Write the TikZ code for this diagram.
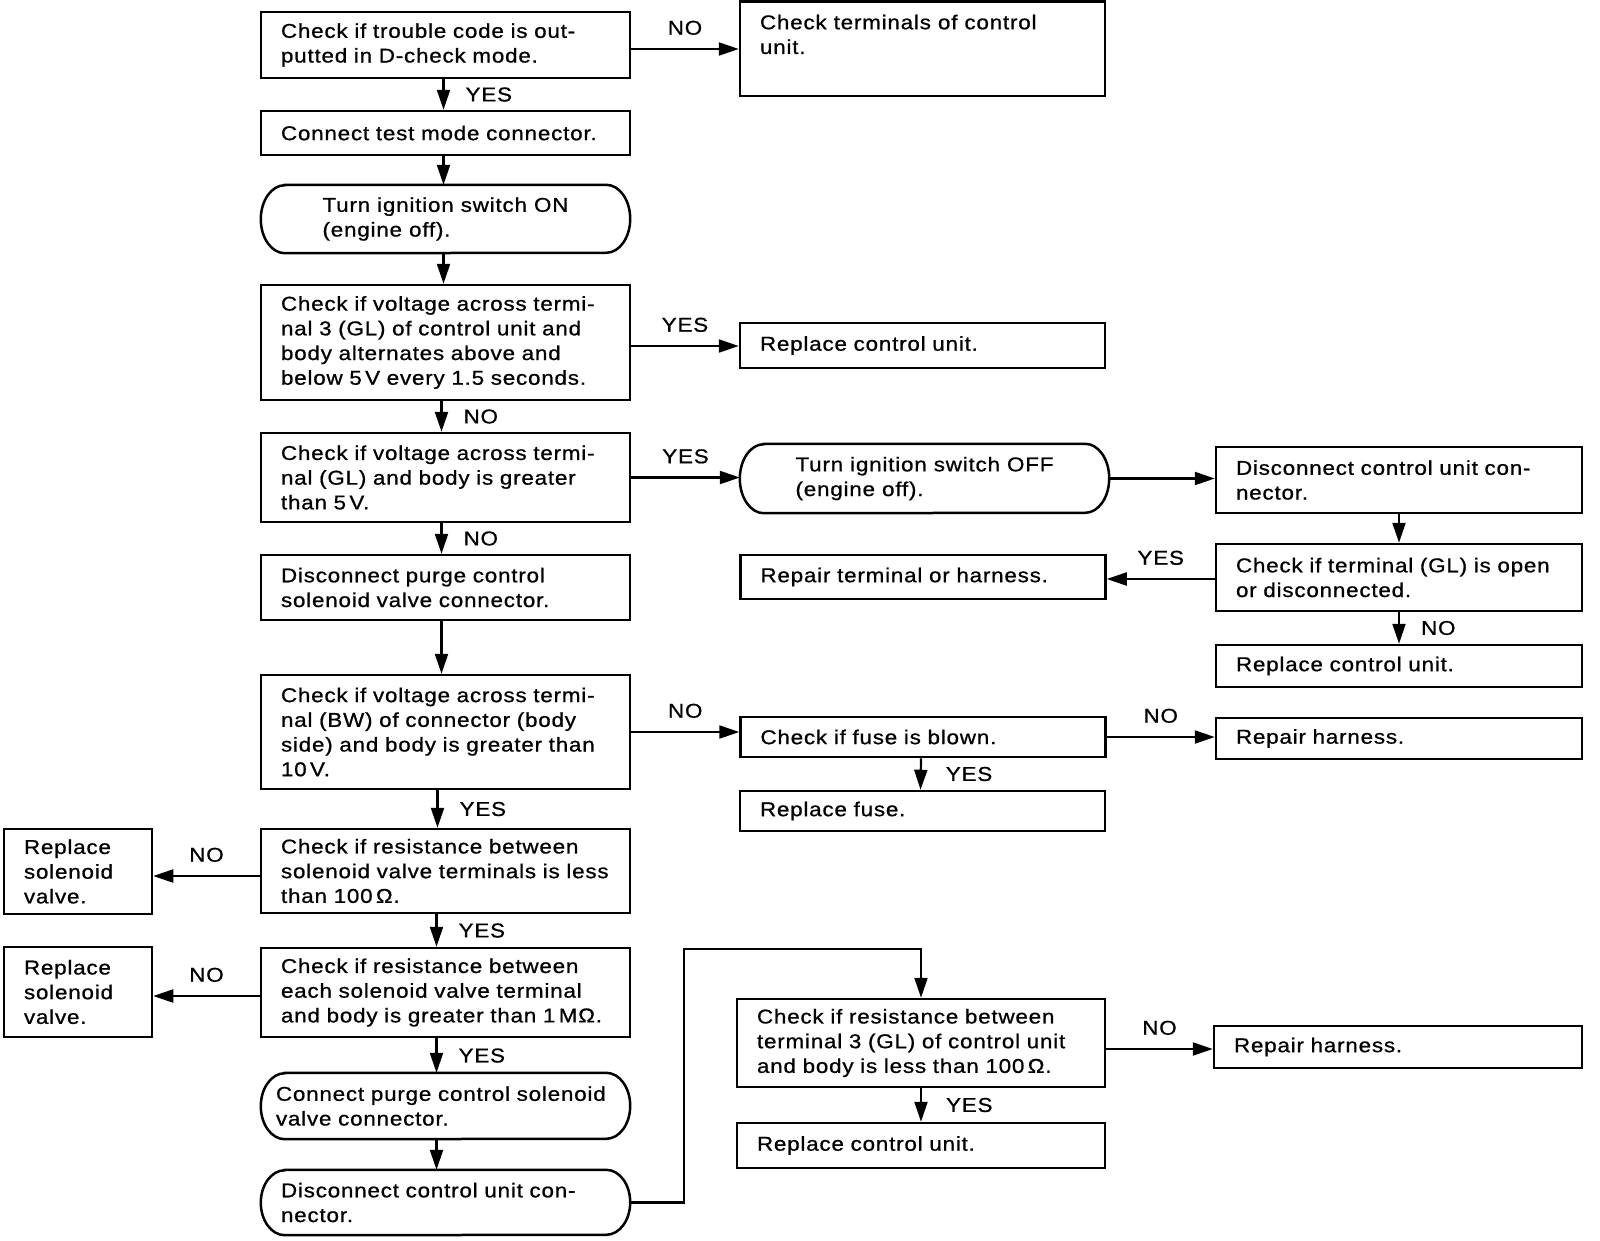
\documentclass[tikz,border=0pt]{standalone}
\usepackage{fontspec}
\setmainfont{Liberation Sans}[FakeStretch=1.12,LetterSpace=4,FakeBold=0.8]
\usetikzlibrary{arrows.meta}
\newcommand\stadium[3]{\draw[bline] ([xshift=#2]#1.north west) -- ([xshift=-#2]#1.north east) arc[start angle=90,end angle=-90,x radius=#2,y radius=#3] -- ([xshift=#2]#1.south west) arc[start angle=270,end angle=90,x radius=#2,y radius=#3] -- cycle;}
\begin{document}
\begin{tikzpicture}[x=1pt,y=1pt,
  txt/.style={font=\fontsize{20}{24.7}\selectfont},
  bx/.style={txt, draw, line width=2.5pt, inner xsep=20pt, inner ysep=0pt, align=left},
  rbx/.style={txt, inner xsep=20pt, inner ysep=0pt, align=left},
  bline/.style={line width=2.5pt},
  colm/.style={minimum width=369pt, text width=329pt},
  colc/.style={minimum width=365pt, text width=325pt},
  colr/.style={minimum width=366pt, text width=326pt},
  coll/.style={minimum width=148pt, text width=108pt},
  arr/.style={line width=2.2pt, -{Triangle[length=20pt,width=13pt]}},
  lab/.style={txt, inner sep=2pt},
]
\fill[white] (0,0) rectangle (1600,-1240);
\useasboundingbox (0,0) rectangle (1600,-1240);

% main column
\node[bx, colm, minimum height=66pt] (m1) at (445.5,-45) {Check if trouble code is out-\\putted in D-check mode.};
\node[bx, colm, minimum height=44pt] (m2) at (445.5,-133) {Connect test mode connector.};
\node[rbx, minimum width=369pt, minimum height=68pt] (m3) at (445.5,-219) {Turn ignition switch ON\\(engine off).};
\stadium{m3}{24pt}{34pt}
\node[bx, colm, minimum height=115pt] (m4) at (445.5,-342.5) {Check if voltage across termi-\\nal 3 (GL) of control unit and\\body alternates above and\\below 5\,V every 1.5 seconds.};
\node[bx, colm, minimum height=89pt] (m5) at (445.5,-477.5) {Check if voltage across termi-\\nal (GL) and body is greater\\than 5\,V.};
\node[bx, colm, minimum height=65pt] (m6) at (445.5,-587.5) {Disconnect purge control\\solenoid valve connector.};
\node[bx, colm, minimum height=114pt] (m7) at (445.5,-732) {Check if voltage across termi-\\nal (BW) of connector (body\\side) and body is greater than\\10\,V.};
\node[bx, colm, minimum height=84pt] (m8) at (445.5,-871) {Check if resistance between\\solenoid valve terminals is less\\than 100\,Ω.};
\node[bx, colm, minimum height=89pt] (m9) at (445.5,-992.5) {Check if resistance between\\each solenoid valve terminal\\and body is greater than 1\,MΩ.};
\node[rbx, minimum width=369pt, text width=339pt, inner xsep=15pt, minimum height=66pt] (m10) at (445.5,-1106) {Connect purge control solenoid\\valve connector.};
\stadium{m10}{24pt}{33pt}
\node[rbx, colm, minimum height=65pt] (m11) at (445.5,-1202.5) {Disconnect control unit con-\\nector.};
\stadium{m11}{24pt}{32.5pt}

% second column
\node[bx, minimum width=365pt, minimum height=94.5pt] (c1) at (922.5,-48.75) {\parbox[t][68pt][t]{325pt}{Check terminals of control\\unit.}};
\node[bx, colc, minimum height=45pt] (c2) at (922.5,-345.5) {Replace control unit.};
\node[rbx, minimum width=369pt, minimum height=69pt] (c3) at (924.5,-478.5) {Turn ignition switch OFF\\(engine off).};
\stadium{c3}{24pt}{34.5pt}
\node[bx, colc, minimum height=44pt] (c4) at (923,-577) {Repair terminal or harness.};
\node[bx, colc, minimum height=40pt] (c5) at (923,-737) {Check if fuse is blown.};
\node[bx, colc, minimum height=40pt] (c6) at (922.5,-811) {Replace fuse.};
\node[bx, minimum width=368pt, text width=328pt, minimum height=88pt] (c7) at (921,-1043) {Check if resistance between\\terminal 3 (GL) of control unit\\and body is less than 100\,Ω.};
\node[bx, minimum width=368pt, text width=328pt, minimum height=45pt] (c8) at (921,-1145.5) {Replace control unit.};

% right column
\node[bx, colr, minimum height=66pt] (r1) at (1399,-480) {Disconnect control unit con-\\nector.};
\node[bx, colr, minimum height=67pt] (r2) at (1399,-577.5) {Check if terminal (GL) is open\\or disconnected.};
\node[bx, colr, minimum height=42pt] (r3) at (1399,-666) {Replace control unit.};
\node[bx, colr, minimum height=41pt] (r4) at (1399,-738.5) {Repair harness.};
\node[bx, minimum width=368pt, text width=328pt, minimum height=42pt] (r5) at (1398,-1047) {Repair harness.};

% left column
\node[bx, coll, minimum height=85pt] (l1) at (78,-871.5) {Replace\\solenoid\\valve.};
\node[bx, coll, minimum height=90pt] (l2) at (78,-992) {Replace\\solenoid\\valve.};

% vertical arrows in main column
\draw[arr] ([xshift=-2pt]m1.south) -- node[lab, right=19pt] {YES} ([xshift=-2pt]m2.north);
\draw[arr] ([xshift=-2pt]m2.south) -- ([xshift=-2pt]m3.north);
\draw[arr] ([xshift=-2pt]m3.south) -- ([xshift=-2pt]m4.north);
\draw[arr] ([xshift=-4pt]m4.south) -- node[lab, right=19pt] {NO} ([xshift=-4pt]m5.north);
\draw[arr] ([xshift=-4pt]m5.south) -- node[lab, right=19pt] {NO} ([xshift=-4pt]m6.north);
\draw[arr] ([xshift=-4pt]m6.south) -- ([xshift=-4pt]m7.north);
\draw[arr] ([xshift=-8pt]m7.south) -- node[lab, right=19pt] {YES} ([xshift=-8pt]m8.north);
\draw[arr] ([xshift=-9pt]m8.south) -- node[lab, right=19pt] {YES} ([xshift=-9pt]m9.north);
\draw[arr] ([xshift=-9pt]m9.south) -- node[lab, right=19pt] {YES} ([xshift=-9pt]m10.north);
\draw[arr] ([xshift=-9pt]m10.south) -- ([xshift=-9pt]m11.north);

% horizontal arrows
\draw[arr] ([yshift=-4pt]m1.east) -- node[lab, above=11pt] {NO} ([yshift=-4pt]m1.east -| c1.west);
\draw[arr] ([yshift=-3.5pt]m4.east) -- node[lab, above=11pt] {YES} ([yshift=-3.5pt]m4.east -| c2.west);
\draw[arr] (m5.east) -- node[lab, above=11pt] {YES} (m5.east -| c3.west);
\draw[arr] (c3.east) -- (c3.east -| r1.west);
\draw[arr] (r1.south) -- (r2.north);
\draw[arr] ([yshift=-1.5pt]r2.west) -- node[lab, above=11pt] {YES} ([yshift=-1.5pt]r2.west -| c4.east);
\draw[arr] (r2.south) -- node[lab, right=19pt] {NO} (r3.north);
\draw[arr] (m7.east) -- node[lab, above=11pt] {NO} (m7.east -| c5.west);
\draw[arr] (c5.east) -- node[lab, above=11pt] {NO} (c5.east -| r4.west);
\draw[arr] ([xshift=-2pt]c5.south) -- node[lab, right=22pt] {YES} ([xshift=-2pt]c6.north);
\draw[arr] ([yshift=-5pt]m8.west) -- node[lab, above=11pt] {NO} ([yshift=-5pt]m8.west -| l1.east);
\draw[arr] ([yshift=-3.5pt]m9.west) -- node[lab, above=11pt] {NO} ([yshift=-3.5pt]m9.west -| l2.east);

% long connector
\coordinate (bend) at (684,-949);
\draw[arr] (m11.east) -| (bend) -| (c7.north);
\draw[arr] ([yshift=-6pt]c7.east) -- node[lab, above=11pt] {NO} ([yshift=-6pt]c7.east -| r5.west);
\draw[arr] (c7.south) -- node[lab, right=22pt] {YES} (c8.north);
\end{tikzpicture}
\end{document}
